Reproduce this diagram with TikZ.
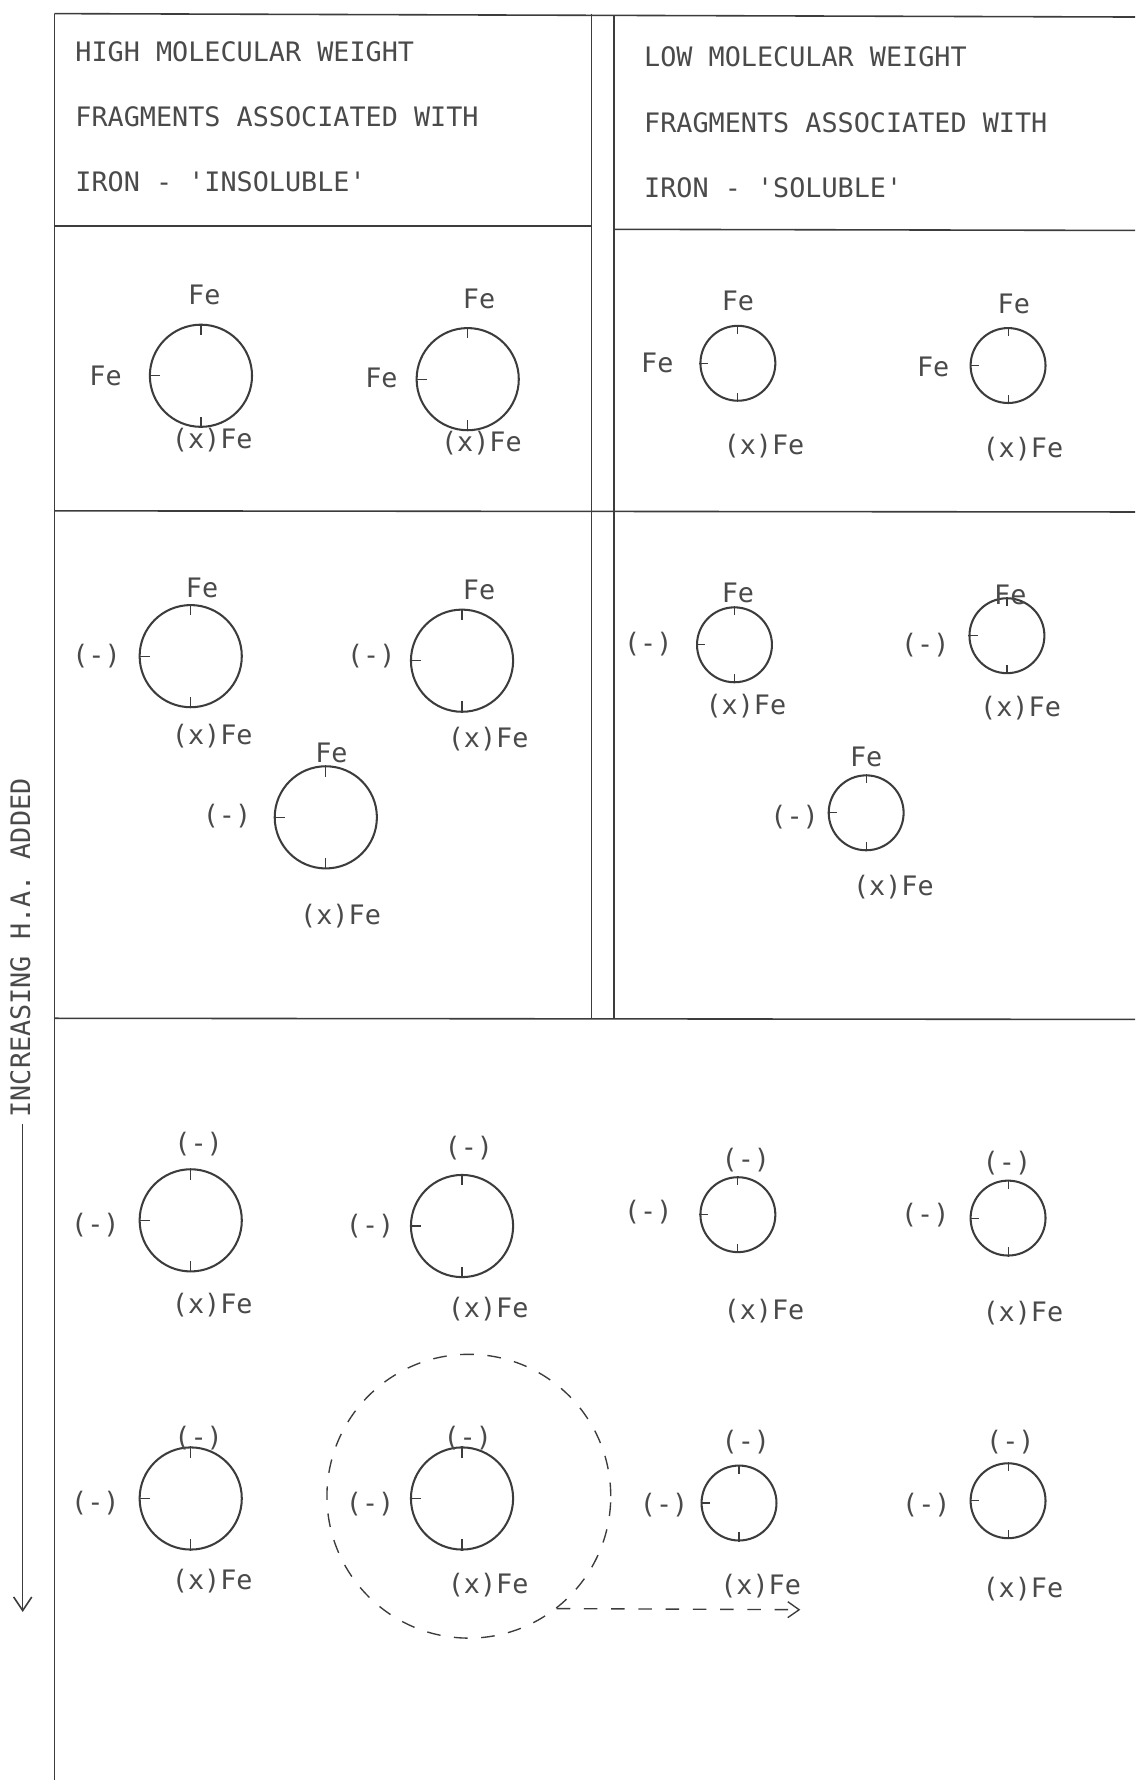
\documentclass[tikz,border=0pt]{standalone}
\usepackage{fontspec}
\newfontfamily\tw{DejaVu Sans Mono}
\usetikzlibrary{arrows.meta}
\definecolor{ink}{HTML}{3C3C3C}
\definecolor{txt}{HTML}{4A4A4A}
\tikzset{
  frame/.style={draw=ink, line width=0.7pt},
  bigring/.style={circle, draw=ink, line width=0.9pt, minimum size=45pt, inner sep=0pt},
  smallring/.style={circle, draw=ink, line width=0.9pt, minimum size=33pt, inner sep=0pt},
  tick/.style={draw=ink, line width=0.5pt},
  lab/.style={text=txt, inner sep=0pt, font=\tw\fontsize{11.8pt}{14pt}\selectfont},
  head/.style={text=txt, inner sep=0pt, anchor=west, font=\tw\fontsize{11.8pt}{14pt}\selectfont},
  dashring/.style={circle, draw=ink, line width=0.6pt, dash pattern=on 6pt off 6pt, minimum size=125pt, inner sep=0pt},
  dasharrow/.style={draw=ink, line width=0.6pt, dash pattern=on 6pt off 6pt, -{Straight Barb[length=5pt,width=7pt]}},
  solidarrow/.style={draw=ink, line width=0.7pt, -{Straight Barb[length=6pt,width=8pt]}}
}
\newcommand{\fragring}[5]{% name, x, y, style, tick length
  \node[#4] (#1) at (#2,#3) {};
  \draw[tick] (#1.north) -- ++(0,#5);
  \draw[tick] (#1.west) -- ++(#5,0);
  \draw[tick] (#1.south) -- ++(0,-#5);
}
\begin{document}
\begin{tikzpicture}[x=0.5pt,y=-0.5pt]
\useasboundingbox[fill=white] (0,0) rectangle (1000,1568);
% frame
\draw[frame] (48,12) -- (1000,15);
\draw[frame] (48,12) -- (48,1568);
\draw[frame] (48,199) -- (521,199);
\draw[frame] (541,202) -- (1000,203);
\draw[frame] (48,450) -- (1000,451);
\draw[frame] (48,897) -- (1000,898);
\draw[frame] (521,12) -- (521,897);
\draw[frame] (541,13) -- (541,897);
% headers
\node[head] (h1) at (66,46) {HIGH MOLECULAR WEIGHT};
\node[head] (h2) at (66,103) {FRAGMENTS ASSOCIATED WITH};
\node[head] (h3) at (66,160) {IRON - 'INSOLUBLE'};
\node[head] (h4) at (567,50) {LOW MOLECULAR WEIGHT};
\node[head] (h5) at (567,108) {FRAGMENTS ASSOCIATED WITH};
\node[head] (h6) at (567,165) {IRON - 'SOLUBLE'};
% side arrow
\node[lab, rotate=90] (side) at (18,835) {INCREASING H.A. ADDED};
\coordinate (sidetop) at (20,990);
\coordinate (sidebot) at (20,1420);
\draw[solidarrow] (sidetop) -- (sidebot);
% row 1
\fragring{c1}{177}{331}{bigring}{10}
\node[lab] (c1a) at (180,260) {Fe};
\node[lab] (c1b) at (93,331) {Fe};
\node[lab] (c1c) at (187,388) {(x)Fe};
\fragring{c2}{412}{334}{bigring}{10}
\node[lab] (c2a) at (422,263) {Fe};
\node[lab] (c2b) at (336,333) {Fe};
\node[lab] (c2c) at (424,390) {(x)Fe};
\fragring{c3}{650}{320}{smallring}{8}
\node[lab] (c3a) at (650,265) {Fe};
\node[lab] (c3b) at (579,320) {Fe};
\node[lab] (c3c) at (673,393) {(x)Fe};
\fragring{c4}{888}{322}{smallring}{8}
\node[lab] (c4a) at (893,268) {Fe};
\node[lab] (c4b) at (822,323) {Fe};
\node[lab] (c4c) at (901,396) {(x)Fe};
% row 2
\fragring{c5}{168}{578}{bigring}{10}
\node[lab] (c5a) at (178,518) {Fe};
\node[lab] (c5b) at (85,578) {(-)};
\node[lab] (c5c) at (187,648) {(x)Fe};
\fragring{c6}{407}{582}{bigring}{10}
\node[lab] (c6a) at (422,520) {Fe};
\node[lab] (c6b) at (327,578) {(-)};
\node[lab] (c6c) at (430,651) {(x)Fe};
\fragring{c7}{287}{720}{bigring}{10}
\node[lab] (c7a) at (292,663) {Fe};
\node[lab] (c7b) at (200,719) {(-)};
\node[lab] (c7c) at (300,807) {(x)Fe};
\fragring{c8}{647}{568}{smallring}{8}
\node[lab] (c8a) at (650,522) {Fe};
\node[lab] (c8b) at (571,567) {(-)};
\node[lab] (c8c) at (657,622) {(x)Fe};
\fragring{c9}{887}{560}{smallring}{8}
\node[lab] (c9a) at (890,524) {Fe};
\node[lab] (c9b) at (815,568) {(-)};
\node[lab] (c9c) at (899,624) {(x)Fe};
\fragring{c10}{763}{716}{smallring}{8}
\node[lab] (c10a) at (763,667) {Fe};
\node[lab] (c10b) at (700,720) {(-)};
\node[lab] (c10c) at (787,781) {(x)Fe};
% row 3
\fragring{c11}{168}{1075}{bigring}{10}
\node[lab] (c11a) at (175,1008) {(-)};
\node[lab] (c11b) at (84,1079) {(-)};
\node[lab] (c11c) at (187,1150) {(x)Fe};
\fragring{c12}{407}{1080}{bigring}{10}
\node[lab] (c12a) at (413,1011) {(-)};
\node[lab] (c12b) at (326,1080) {(-)};
\node[lab] (c12c) at (430,1153) {(x)Fe};
\fragring{c13}{650}{1070}{smallring}{8}
\node[lab] (c13a) at (657,1022) {(-)};
\node[lab] (c13b) at (571,1068) {(-)};
\node[lab] (c13c) at (673,1155) {(x)Fe};
\fragring{c14}{888}{1073}{smallring}{8}
\node[lab] (c14a) at (887,1025) {(-)};
\node[lab] (c14b) at (815,1070) {(-)};
\node[lab] (c14c) at (901,1157) {(x)Fe};
\fragring{c15}{168}{1320}{bigring}{10}
\node[lab] (c15a) at (175,1267) {(-)};
\node[lab] (c15b) at (84,1324) {(-)};
\node[lab] (c15c) at (187,1393) {(x)Fe};
\fragring{c16}{407}{1320}{bigring}{10}
\node[lab] (c16a) at (412,1267) {(-)};
\node[lab] (c16b) at (326,1325) {(-)};
\node[lab] (c16c) at (430,1396) {(x)Fe};
\fragring{c17}{651}{1324}{smallring}{8}
\node[lab] (c17a) at (657,1270) {(-)};
\node[lab] (c17b) at (585,1326) {(-)};
\node[lab] (c17c) at (670,1397) {(x)Fe};
\fragring{c18}{888}{1322}{smallring}{8}
\node[lab] (c18a) at (890,1270) {(-)};
\node[lab] (c18b) at (816,1326) {(-)};
\node[lab] (c18c) at (901,1400) {(x)Fe};
% dashed grouping and arrow
\node[dashring] (dc) at (413,1318) {};
\coordinate (dend) at (705,1418);
\draw[dasharrow] (dc.-52) -- (dend);
\end{tikzpicture}
\end{document}
